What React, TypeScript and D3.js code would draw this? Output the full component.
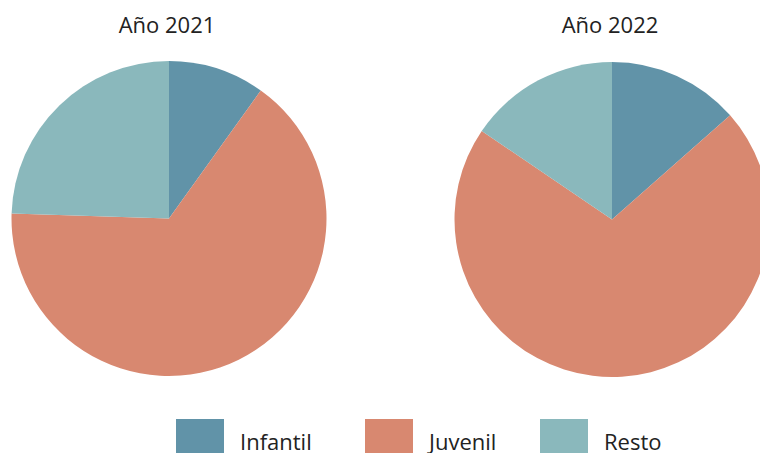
import React from "react";
import * as d3 from "d3";

const categories = ["Infantil", "Juvenil", "Resto"];
const years = ["Año 2021", "Año 2022"];
const values2021 = [9.9, 65.6, 24.5];
const values2022 = [13.5, 71.0, 15.5];
const colors = ["#6193a8", "#d88870", "#8ab8bc"];

const W = 760;
const H = 453;
const R = 157.5;
const centers = [
  { x: 169, y: 218.5 },
  { x: 612, y: 219.5 },
];
const font = "'Open Sans', sans-serif";

export default function App() {
  const pie = d3.pie<number>().sort(null).value((d) => d);
  const arc = d3.arc<d3.PieArcDatum<number>>().innerRadius(0).outerRadius(R);
  const series = [values2021, values2022];
  const legendX = [176, 365, 540];

  return (
    <svg
      width={W}
      height={H}
      style={{ position: "absolute", left: 0, top: 0, background: "#fff" }}
    >
      {series.map((vals, i) => (
        <g key={i}>
          <text
            x={centers[i].x - 2}
            y={33}
            textAnchor="middle"
            fontFamily={font}
            fontSize={22}
            fill="#222"
          >
            {years[i]}
          </text>
          <g transform={`translate(${centers[i].x},${centers[i].y})`}>
            {pie(vals).map((d, j) => (
              <path key={j} d={arc(d) || ""} fill={colors[j]} />
            ))}
          </g>
        </g>
      ))}
      {categories.map((c, i) => (
        <g key={c}>
          <rect x={legendX[i]} y={419} width={48} height={34} fill={colors[i]} />
          <text
            x={legendX[i] + 64}
            y={450}
            fontFamily={font}
            fontSize={22}
            fill="#222"
          >
            {c}
          </text>
        </g>
      ))}
    </svg>
  );
}
